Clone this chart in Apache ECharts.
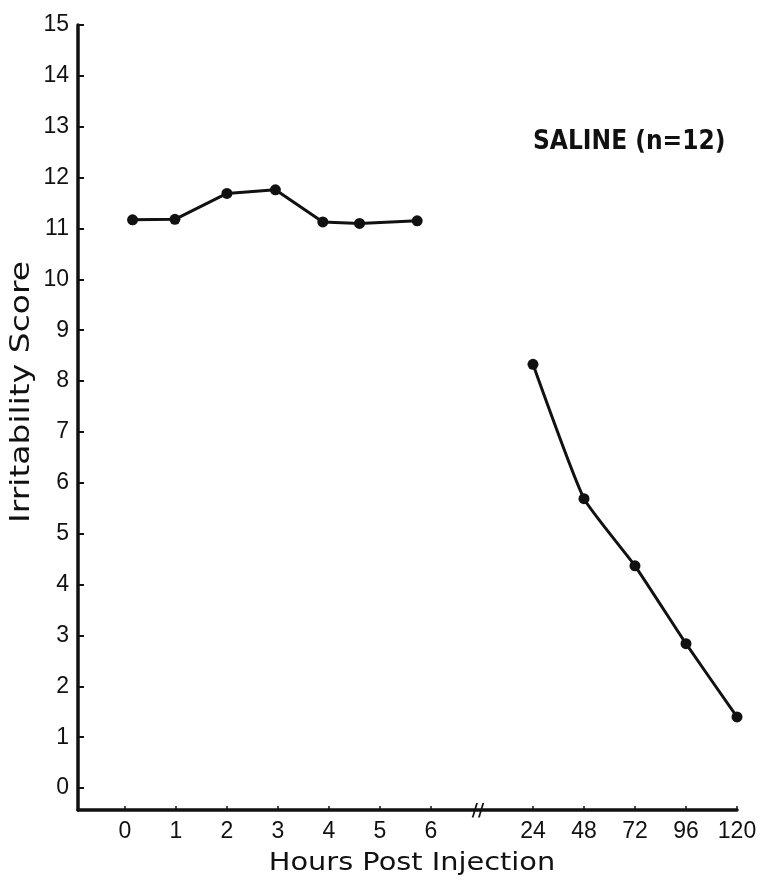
<!DOCTYPE html>
<html>
<head>
<meta charset="utf-8">
<script src="https://cdn.jsdelivr.net/npm/echarts@6/dist/echarts.min.js"></script>
<style>
html,body{margin:0;padding:0;background:#fff;}
#chart{width:774px;height:886px;}
</style>
</head>
<body>
<div id="chart"></div>
<script>
// ---- data ----
// x positions on the (broken) hours axis: 0..6 h occupy slots 0..6, slot 7 is the break, 24..120 h occupy slots 8..12
const earlyX = [0.15, 0.98, 2.0, 2.95, 3.88, 4.6, 5.73];
const earlyScores = [11.17, 11.18, 11.69, 11.76, 11.13, 11.10, 11.15];
const lateX = [8, 9, 10, 11, 12];
const lateScores = [8.33, 5.69, 4.37, 2.84, 1.40];
const xTickPositions = [0, 1, 2, 3, 4, 5, 6, 8, 9, 10, 11, 12];
const xTickLabels = ['0', '1', '2', '3', '4', '5', '6', '24', '48', '72', '96', '120'];
const yTicks = [0, 1, 2, 3, 4, 5, 6, 7, 8, 9, 10, 11, 12, 13, 14, 15];
const breakPosition = 7;
const annotation = 'SALINE (n=12)';
const xTitle = 'Hours Post Injection';
const yTitle = 'Irritability Score';

const ink = '#111';
const chart = echarts.init(document.getElementById('chart'), null, {renderer: 'canvas'});
const yMin = -0.43, xMin = -0.92;

const option = {
  animation: false,
  backgroundColor: '#fff',
  grid: {left: 78, right: 37, top: 25, bottom: 76, containLabel: false},
  xAxis: {
    type: 'value', min: xMin, max: 12,
    axisLine: {show: true, onZero: false, lineStyle: {color: ink, width: 3.5}},
    axisTick: {show: true, inside: true, length: 4, customValues: xTickPositions, lineStyle: {color: ink, width: 1.5}},
    axisLabel: {
      customValues: xTickPositions, margin: 10, color: ink, fontSize: 23,
      fontFamily: 'Liberation Sans, Arial, sans-serif',
      formatter: v => { const i = xTickPositions.indexOf(v); return i >= 0 ? xTickLabels[i] : ''; }
    },
    splitLine: {show: false}
  },
  yAxis: {
    type: 'value', min: yMin, max: 15,
    axisLine: {show: true, onZero: false, lineStyle: {color: ink, width: 3.5}},
    axisTick: {show: true, inside: true, length: 6, customValues: yTicks, lineStyle: {color: ink, width: 2}},
    axisLabel: {customValues: yTicks, margin: 9, color: ink, fontSize: 23, fontFamily: 'Liberation Sans, Arial, sans-serif'},
    splitLine: {show: false}
  },
  series: [
    {
      type: 'line', data: earlyX.map((x, i) => [x, earlyScores[i]]),
      symbol: 'circle', symbolSize: 11, showSymbol: true,
      lineStyle: {color: ink, width: 3}, itemStyle: {color: ink}
    },
    {
      type: 'line', data: lateX.map((x, i) => [x, lateScores[i]]), smooth: 0.15,
      symbol: 'circle', symbolSize: 11, showSymbol: true,
      lineStyle: {color: ink, width: 3}, itemStyle: {color: ink}
    }
  ]
};
chart.setOption(option);

const br = chart.convertToPixel({gridIndex: 0}, [breakPosition, yMin]);
chart.setOption({
  graphic: [
    {type: 'text', left: 533, top: 129, style: {text: annotation, fill: ink, fontSize: 26, fontWeight: 'bold',
      fontFamily: 'Liberation Sans Narrow, DejaVu Sans Condensed, sans-serif'}},
    {type: 'text', x: 412, y: 864, scaleX: 1.2, style: {text: xTitle, fill: ink, fontSize: 24, fontFamily: 'DejaVu Sans, sans-serif',
      align: 'center', verticalAlign: 'middle'}},
    {type: 'text', x: 22, y: 392, rotation: Math.PI / 2, scaleX: 1.22, style: {text: yTitle, fill: ink, fontSize: 27,
      fontFamily: 'DejaVu Sans, sans-serif', align: 'center', verticalAlign: 'middle'}},
    {type: 'text', x: br[0] - 4, y: br[1] + 2, style: {text: '//', fill: ink, fontSize: 17, fontWeight: 'bold',
      fontFamily: 'DejaVu Sans, sans-serif', align: 'center', verticalAlign: 'middle', backgroundColor: '#fff'}}
  ]
});
</script>
</body>
</html>
